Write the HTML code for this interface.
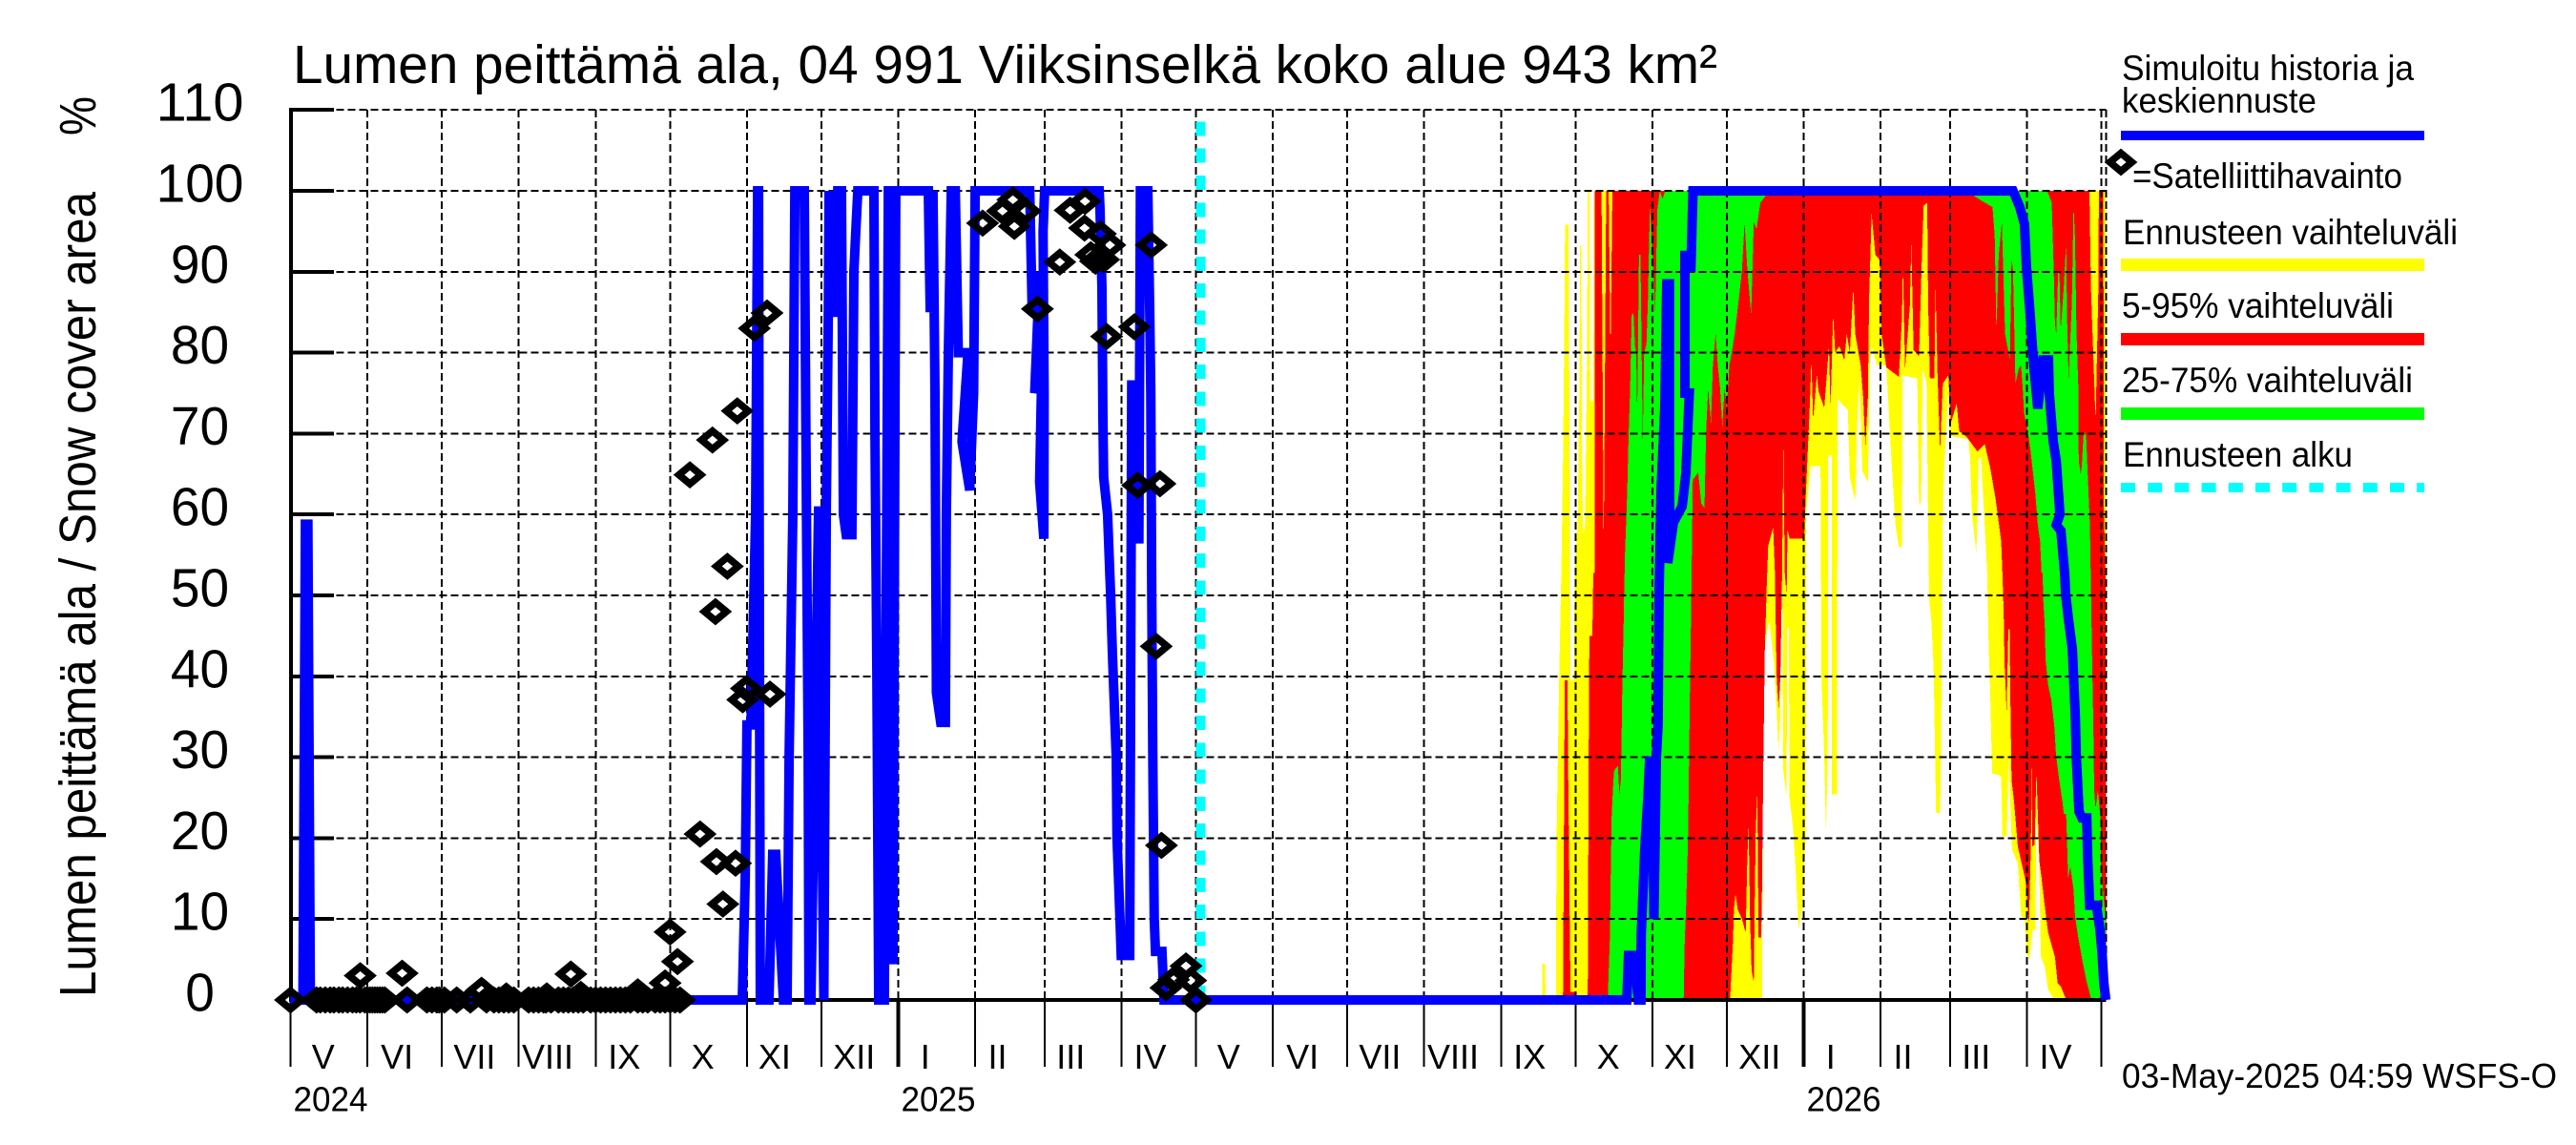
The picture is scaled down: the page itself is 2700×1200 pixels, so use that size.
<!DOCTYPE html>
<html lang="fi">
<head>
<meta charset="utf-8">
<title>Lumen peittämä ala</title>
<style>
html,body{margin:0;padding:0;background:#fff;}
svg{display:block;}
text{font-family:"Liberation Sans",Arial,sans-serif;fill:#000;}
</style>
</head>
<body>
<svg id="chart" xmlns="http://www.w3.org/2000/svg" width="2700" height="1200" viewBox="0 0 2700 1200">
<rect x="0" y="0" width="2700" height="1200" fill="#fff"/>
<text x="307" y="87" font-size="57" textLength="1493" lengthAdjust="spacingAndGlyphs">Lumen peittämä ala, 04 991 Viiksinselkä koko alue 943 km²</text>
<text transform="translate(100,1045) rotate(-90)" font-size="54" textLength="844" lengthAdjust="spacingAndGlyphs">Lumen peittämä ala / Snow cover area</text>
<text transform="translate(100,142) rotate(-90)" font-size="54" textLength="41" lengthAdjust="spacingAndGlyphs">%</text>
<g id="bands" shape-rendering="crispEdges"></g>
<g id="grid" shape-rendering="crispEdges"></g>
<g id="axes" shape-rendering="crispEdges"></g>
<g id="forecastStart" shape-rendering="crispEdges"></g>
<g id="series"></g>
<g id="points"></g>
<text x="2224" y="1140" font-size="36" textLength="456" lengthAdjust="spacingAndGlyphs">03-May-2025 04:59 WSFS-O</text>
<g>
<text x="2224" y="84" font-size="37" textLength="306" lengthAdjust="spacingAndGlyphs">Simuloitu historia ja</text>
<text x="2224" y="118" font-size="37" textLength="204" lengthAdjust="spacingAndGlyphs">keskiennuste</text>
<rect x="2223" y="137" width="318" height="10" fill="#0000ff"/>
<path d="M2211.5 170L2223 160.5L2234.5 170L2223 179.5Z" fill="none" stroke="#000" stroke-width="7.5"/>
<text x="2235" y="197" font-size="37" textLength="283" lengthAdjust="spacingAndGlyphs">=Satelliittihavainto</text>
<text x="2225" y="256" font-size="37" textLength="351" lengthAdjust="spacingAndGlyphs">Ennusteen vaihteluväli</text>
<rect x="2223" y="271" width="318" height="13" fill="#ffff00"/>
<text x="2224" y="333" font-size="37" textLength="285" lengthAdjust="spacingAndGlyphs">5-95% vaihteluväli</text>
<rect x="2223" y="349" width="318" height="13" fill="#ff0000"/>
<text x="2224" y="411" font-size="37" textLength="305" lengthAdjust="spacingAndGlyphs">25-75% vaihteluväli</text>
<rect x="2223" y="427" width="318" height="13" fill="#00ff00"/>
<text x="2225" y="489" font-size="37" textLength="241" lengthAdjust="spacingAndGlyphs">Ennusteen alku</text>
<line x1="2223" y1="511" x2="2541" y2="511" stroke="#00ffff" stroke-width="10" stroke-dasharray="15 13.2"/>
</g>
</svg>
<script>
const yTicks = [0,10,20,30,40,50,60,70,80,90,100,110];
const monthStarts = [0,31,61,92,123,153,184,214,245,276,304,335,365,396,426,457,488,518,549,579,610,641,669,700,730];
const monthLabels = ["V","VI","VII","VIII","IX","X","XI","XII","I","II","III","IV","V","VI","VII","VIII","IX","X","XI","XII","I","II","III","IV"];
const yearLabels = ["2024","2025","2026"];
const yearStarts = [0,245,610];
const forecastStartDay = 367;

const simulated = [[0,0],[5,0],[6,58.8],[7,58.8],[8,0],[182.1,0],[183.3,15],[184,34],[185.6,34],[187.5,60],[188.3,100],[188.7,100],[189,50],[189.4,0],[192.9,0],[194.4,18],[195.6,18],[198.7,0],[200.2,0],[201,30],[202.5,60],[203.3,100],[207.1,100],[207.9,65],[208.7,30],[209,0],[209.8,0],[212.9,61],[214,30],[215,0],[216,61],[216.8,85],[217.1,100],[217.9,85],[219.8,85],[220.6,100],[222.1,100],[222.9,60],[224,57.5],[226.3,57.5],[227.1,90],[227.9,95],[228.7,100],[235.2,100],[235.6,70],[236.4,40],[237.1,0],[239.4,0],[241,100],[241.8,100],[242.5,5],[242.9,5],[244,100],[257.1,100],[257.9,85],[259,100],[259.8,75],[260.2,50],[260.4,38],[261.3,36],[262.1,34.3],[264,34.3],[264.4,60],[265.2,80],[266.4,100],[268,100],[269.2,80],[273.1,80],[270.7,69],[273.8,63],[275.4,75],[276,100],[298,100],[299,85],[302,90],[300,75],[303,80],[302,64],[303.7,57],[303.8,75],[303.4,95],[304,100],[326,100],[326.3,98],[327.1,88],[327.5,72],[327.8,64.6],[329.4,60],[330.6,50],[331.3,43],[332.9,30],[333.2,20],[334.4,10],[334.9,5.5],[336.8,5.5],[338.3,5.5],[339.1,76],[340,76],[341.5,57],[342,57],[342.6,100],[345.6,100],[346.4,85],[346.8,75],[347.2,50],[347.6,30],[348.2,10],[348.7,6],[351.3,6],[352.1,0],[538.7,0],[539.4,5.5],[541.7,5.5],[543.3,0],[544.4,0],[544.5,8],[546,19],[547.2,25],[547.9,29.5],[549,29.5],[549.4,18],[549.6,10],[550.6,30],[551.3,34],[551.7,50],[552.5,63],[554,73],[554.8,88.5],[555.9,88.5],[555.9,70],[556,60],[555.2,54],[557.5,59],[561,61],[562.5,65],[563.9,75],[562.1,75],[562.1,92],[563,92],[564.5,90],[565.4,100],[694.4,100],[697.1,98],[699,95.9],[699.8,90.6],[701.3,84.7],[702.1,81.1],[702.9,78],[704.4,73.1],[706.4,79.1],[708.7,79.1],[709,75],[710.6,69],[711.8,66.6],[713.3,60],[711.8,58.7],[713.7,58],[715.2,52.8],[715.6,50.1],[716.8,46.9],[718.3,43.4],[719.5,35.1],[719.9,30.1],[721,23.3],[722.2,22.5],[724.1,22.5],[724.5,17.5],[725.3,11.7],[728,11.7],[729.5,8.6],[730.3,5.7],[731,2.1],[731.8,0]];

const satelliteZeroDays = [0,10.5,12,14,16,17.5,19.5,21,23,25,26.5,28,30,31,32,33,34,35,36,37,38,47,55,57,59,60,62,67,72.5,79,82,84,86,88,90,96,98,100,102,103,105,108,110,112,114,116,118,121,123,125,127,129,131,133,135,137,140,142,144,147,149,151,153,155,157];
const satellitePoints = [[28.1,3],[45,3.3],[77,1.2],[87,0.5],[103.3,0.5],[113,3.2],[117,0.7],[140,1],[151,2.1],[153,8.4],[156,4.75],[161,64.9],[170.1,69.2],[180.1,72.8],[187,83],[192.1,84.9],[176.1,53.6],[171.3,48],[182.3,37.1],[183.8,38.5],[193.3,37.8],[165.1,20.5],[171.7,17.1],[179.4,16.9],[174.3,11.85],[279,96],[287,97.5],[291.2,98.9],[296.3,97.5],[291.8,95.6],[314.3,97.6],[320.3,98.7],[310.1,91.2],[320.1,95.4],[326.5,94.7],[330.3,93.3],[322.6,92.1],[324.5,91.3],[327.8,91.5],[301.1,85.4],[347,93.3],[329,82],[340.2,83.2],[341.5,63.6],[350.5,63.8],[349,43.7],[351.1,19.1],[352.9,1.5],[356,2.5],[361,4.2],[362.9,2.4],[365,0]];

const yellowUpper = [[504.5,0],[504.6,4.5],[505.7,4.5],[506,0],[510.1,0],[510.4,20],[511.5,41],[512.3,52.8],[513,67],[513.5,82],[513.8,95.8],[515.2,95.8],[515.7,64.6],[516,39.5],[517.4,39.5],[517.7,52.8],[518.9,58.7],[519.6,76.4],[519.9,93.2],[520.4,93.2],[520.7,64.6],[521.1,57.5],[521.9,58.7],[522.6,78.2],[523,100],[523.6,100],[524,74],[525.2,74],[525.5,100],[732,100]];
const yellowLower = [[504.5,0],[593.2,0],[593.6,28],[594.3,43.4],[595.4,45.8],[596.2,46.9],[598.1,41.4],[599.1,36],[599.9,30.8],[600.6,35.1],[601,51],[601.4,51],[601.8,28.4],[603.1,25.1],[603.3,46],[604,46],[604.3,24.9],[605.7,21.3],[606.5,17.5],[608,8.8],[609.4,11.2],[610.2,17.5],[610.8,20.2],[611,60.3],[612.8,66],[616.8,66],[617.2,40],[618.3,30],[619,20.6],[619.7,30],[619.9,67.3],[621.3,67.3],[621.4,25.4],[623.4,25.4],[623.7,74.1],[624.1,74.1],[627.8,72.9],[628.6,64.6],[630.8,61.7],[631.5,70.5],[632.2,76.4],[633,71.7],[633.7,65.4],[635.9,64],[636.7,78.8],[637.4,80.8],[639.6,78.4],[643.3,78.4],[645.5,66.2],[647,58.7],[648.4,56],[649.6,56],[649.9,77.2],[655.8,76.8],[656.5,61.4],[657.3,61.4],[658,78],[659.5,76.4],[660.2,59.1],[660.6,49.3],[661.4,47.3],[662.4,41],[663.4,23.1],[665,23.1],[665.4,31.6],[665.8,50.5],[666.1,61],[666.8,67],[668.3,75.2],[669,69.7],[676.4,69.3],[677.1,67],[677.9,59.9],[679.6,55.2],[680.5,67],[681.5,67],[684,52.8],[684.5,44.6],[685.2,38],[686,28],[689.6,27.7],[690.1,20.2],[691.9,20.2],[692.6,30],[693.3,24.2],[694,18.6],[696.3,16.9],[697.7,10.4],[699.2,10],[700,5.7],[701.1,5],[702.2,8.6],[703.4,8.6],[703.8,23],[704.9,17.5],[705.6,5.4],[707.2,4.1],[708.5,1.3],[711.1,0],[732,0]];

const redUpper = [[512.7,0],[513,1],[513.7,39.5],[514.8,39.5],[515,30],[516,1],[517.9,1],[518.2,0],[522.9,0],[523,3],[523.3,29],[523.6,45],[524.8,45],[525.2,52.8],[525.7,52.8],[525.8,100],[528.5,100],[529.4,55.4],[530.4,100],[531.4,100],[532.1,79.7],[532.9,100],[725.2,100],[725.8,88],[727.7,71.5],[728.8,88],[729,100],[730.8,100],[731,61.4],[731.8,50],[731.9,5],[732,0]];
const redLower = [[512.7,0],[580.3,0],[581.5,7.2],[581.9,11.2],[582.5,13.1],[583.4,11.2],[585.1,10],[586.6,8.3],[587.3,18],[587.8,21.3],[588.4,10],[589,3.7],[589.9,2.1],[590.3,13],[590.7,21],[591.3,25.5],[591.8,7.7],[592.9,7.7],[593.2,13.6],[593.7,28],[594.3,43],[595.1,51.3],[595.7,56.1],[597.7,58.4],[598.4,53],[599.1,40],[599.9,36],[600.6,40],[601.3,52.8],[601.8,68.5],[602.4,52.8],[603.1,50],[603.5,58.1],[604.3,57],[610.2,57],[610.9,62.6],[612.4,72.9],[613.1,79.1],[613.8,71.7],[615.3,77.2],[616,75.2],[618.3,73.2],[620.2,80.8],[620.8,73.2],[621.9,84.7],[622.7,80],[624.4,80.8],[626.4,79.1],[627.4,82.3],[628.6,80],[630,88],[630.8,82.3],[633,78.4],[634,74.4],[634.9,68.5],[635.9,74.4],[636.4,86.7],[637.4,97.2],[638.9,92.1],[640.8,91.4],[641.4,82.3],[643.3,78.2],[648.4,77],[649.6,84.3],[650,90.6],[650.9,78],[652.8,85.8],[653.4,93.5],[654.3,80.3],[656.5,79.6],[657.6,91.4],[658.4,98.2],[659.8,98.5],[660.2,85.8],[660.9,76.8],[662.7,76.8],[663.1,88.6],[663.9,78],[665,67.8],[666.1,76.2],[668.3,77.2],[669.3,71.3],[671.7,73.7],[672.7,70.3],[675.7,69.6],[680,67.8],[683,68.7],[685.2,65.8],[687.4,61.9],[689.6,56.7],[690.1,52.8],[690.6,48.1],[691,41.4],[691.6,37.1],[691.8,35.5],[692.5,45.8],[693,45.8],[693.4,35.8],[693.8,27.2],[694.8,24.5],[695.7,21.3],[696.3,19],[697.6,17.2],[699.5,14.7],[700.8,9.2],[701.6,19.4],[701.8,29.2],[702.2,19],[703.1,19.2],[703.8,28.3],[704.4,23],[705,17.2],[705.9,15.1],[707.2,11.6],[708.5,8.4],[711.3,5.3],[712.4,2.1],[713.6,1.7],[715.6,0.2],[716,0],[732,0]];

const greenUpper = [[531,0],[531.9,7.7],[532.2,15.1],[532.6,23],[533.3,27.2],[533.6,28.4],[535.1,28.9],[535.7,25.4],[536.3,27.2],[536.6,33.1],[536.9,39],[537.3,44.9],[537.7,51.3],[538,55.5],[538.8,62.3],[539.5,70.5],[540,75.2],[540.7,84.7],[541.4,84.9],[542,80.8],[542.5,80],[542.9,72],[543.6,92.1],[544.2,92.1],[545.1,69],[545.7,80],[546.6,81.1],[547.2,86.2],[548,98],[549.1,92.1],[550.1,85],[551,97.6],[552,100],[553.1,99],[554.2,100],[708.1,100],[709.2,99.2],[710,98.5],[710.8,90.2],[711.3,83.5],[711.8,82.3],[712.6,90.2],[713.1,89.6],[713.6,82.7],[714.9,88.2],[715.8,93.6],[716.2,84.3],[716.8,76.7],[718.1,86.2],[718.8,98.2],[719.4,94.1],[720,82.3],[720.7,76],[720.9,66.6],[721.7,65],[722.1,66],[722.9,70.3],[723.9,69.7],[724.5,65],[725.4,58.7],[725.8,50.8],[726.2,43.6],[726.8,33.1],[727.1,25.9],[727.7,23.7],[728.6,25.9],[729.7,22.2],[729.9,16.6],[730.6,13.6],[731.6,10.4],[731.8,5.7],[732,0]];
const greenLower = [[531,0],[561.6,0],[562,6.8],[562.6,11.8],[563.4,20],[564.1,37.5],[564.5,45.4],[565.3,64.3],[567.5,65.2],[568.7,61.4],[570,60.8],[570.7,70.5],[571.5,75.6],[572.6,71.3],[573.4,78.4],[574.5,82.3],[575.4,78.4],[576.3,75.6],[577.2,70.9],[578.1,75.6],[579,73.2],[580,78.4],[581,80],[582.2,82.3],[584,87],[585.1,90.2],[586.2,96.1],[587.3,90.2],[588.8,84.7],[589.9,96.1],[591,95.3],[592.5,98.5],[594.7,99.4],[596.9,100],[678.6,99.4],[681.6,98.8],[686.1,98],[687,94.5],[687.7,82.5],[688.6,92],[689.9,96.1],[691.2,82.3],[693.1,79.1],[693.8,91.7],[694.4,90.2],[695.4,76.2],[696.7,78],[697.6,78.4],[698.3,75.6],[698.9,72.5],[700.6,69.7],[701.5,67.8],[703.4,62.6],[704.4,58.7],[705.3,56.7],[705.9,52.8],[706.3,52.8],[706.6,49.3],[707.2,46.3],[707.5,42.2],[708.5,39],[709.8,37.1],[711.1,33.6],[711.7,30.4],[713,27.2],[714.3,24.5],[714.9,23],[715.8,23],[716.2,19.4],[716.6,15.1],[717.5,16.5],[718.8,13.6],[719.4,10.4],[720.7,7.7],[722.4,4.8],[723.9,2.5],[725.8,0.2],[732,0]];

const NS = 'http://www.w3.org/2000/svg';
const xAxis = d => 304.5 + d * 2.6;
const yAxis = v => 1048 - v * 8.48;
const monthLabelShift = {V:-6,VI:-8,VII:-6,VIII:-10,IX:-9,X:-6,XI:-10,XII:-6,I:-12,II:-13,III:-13,IV:-9};

function make(tag, parentId, props) {
  const el = document.createElementNS(NS, tag);
  for (const k in props) el.setAttribute(k, props[k]);
  document.getElementById(parentId).appendChild(el);
  return el;
}

function bandPath(upper, lower) {
  const pts = upper.concat(lower.slice().reverse());
  return pts.map(p => xAxis(p[0]).toFixed(1) + ',' + yAxis(p[1]).toFixed(1)).join(' ');
}

[['yellow', '#ffff00', yellowUpper, yellowLower], ['red', '#ff0000', redUpper, redLower], ['green', '#00ff00', greenUpper, greenLower]].forEach(b => {
  const el = make('polygon', 'bands', {points: bandPath(b[2], b[3]), fill: b[1]});
  
  
});

yTicks.forEach(t => {
  const g = make('line', 'grid', {x1: xAxis(0), x2: xAxis(732), y1: yAxis(t), y2: yAxis(t), stroke: '#000', 'stroke-width': 2, 'stroke-dasharray': '8 4'});
  
  
});
monthStarts.concat([732]).forEach(d => {
  const g = make('line', 'grid', {x1: xAxis(d), x2: xAxis(d), y1: yAxis(110), y2: yAxis(0), stroke: '#000', 'stroke-width': 2, 'stroke-dasharray': '8 4'});
  
  
});

const yAxisLine = make('line', 'axes', {x1: 305, x2: 305, y1: yAxis(110) - 2, y2: yAxis(0) + 2, stroke: '#000', 'stroke-width': 4});


const xAxisLine = make('line', 'axes', {x1: 304, x2: xAxis(732), y1: yAxis(0), y2: yAxis(0), stroke: '#000', 'stroke-width': 4});



yTicks.forEach(t => {
  const tick = make('line', 'axes', {x1: 304, x2: 350, y1: yAxis(t), y2: yAxis(t), stroke: '#000', 'stroke-width': 4});
  
  
  const str = String(t);
  const len = str.length * 30.6;
  const lab = make('text', 'axes', {x: 209.5 - len / 2, y: yAxis(t) + 11.5, 'font-size': 57, textLength: len, lengthAdjust: 'spacingAndGlyphs'});
  lab.textContent = str;
  
  
});

monthStarts.forEach(d => {
  const tick = make('line', 'axes', {x1: xAxis(d), x2: xAxis(d), y1: yAxis(0), y2: 1118, stroke: '#000', 'stroke-width': yearStarts.includes(d) && d > 0 ? 4 : 2});
  
  
});
monthLabels.forEach((m, i) => {
  const mid = (xAxis(monthStarts[i]) + xAxis(monthStarts[i + 1])) / 2 + monthLabelShift[m];
  const lab = make('text', 'axes', {x: mid, y: 1120, 'font-size': 36, 'text-anchor': 'middle'});
  lab.textContent = m;
  
  
});
yearLabels.forEach((y, i) => {
  const lab = make('text', 'axes', {x: xAxis(yearStarts[i]) + 3, y: 1164.5, 'font-size': 36, textLength: 78, lengthAdjust: 'spacingAndGlyphs'});
  lab.textContent = y;
  
  
});

const startLine = make('line', 'forecastStart', {x1: xAxis(forecastStartDay), x2: xAxis(forecastStartDay), y1: yAxis(0), y2: yAxis(110), stroke: '#00ffff', 'stroke-width': 10, 'stroke-dasharray': '15 13.3'});



const simLine = make('polyline', 'series', {
  points: simulated.map(p => xAxis(p[0]).toFixed(1) + ',' + yAxis(p[1]).toFixed(1)).join(' '),
  fill: 'none', stroke: '#0000ff', 'stroke-width': 10, 'stroke-linejoin': 'miter', 'stroke-miterlimit': 1.5
});



satelliteZeroDays.map(d => [d, 0]).concat(satellitePoints).forEach(p => {
  const cx = xAxis(p[0]), cy = yAxis(p[1]);
  const el = make('path', 'points', {d: 'M' + (cx - 11.5) + ' ' + cy + 'L' + cx + ' ' + (cy - 9.5) + 'L' + (cx + 11.5) + ' ' + cy + 'L' + cx + ' ' + (cy + 9.5) + 'Z', fill: 'none', stroke: '#000', 'stroke-width': 7.5});
  
  
});
</script>
</body>
</html>
